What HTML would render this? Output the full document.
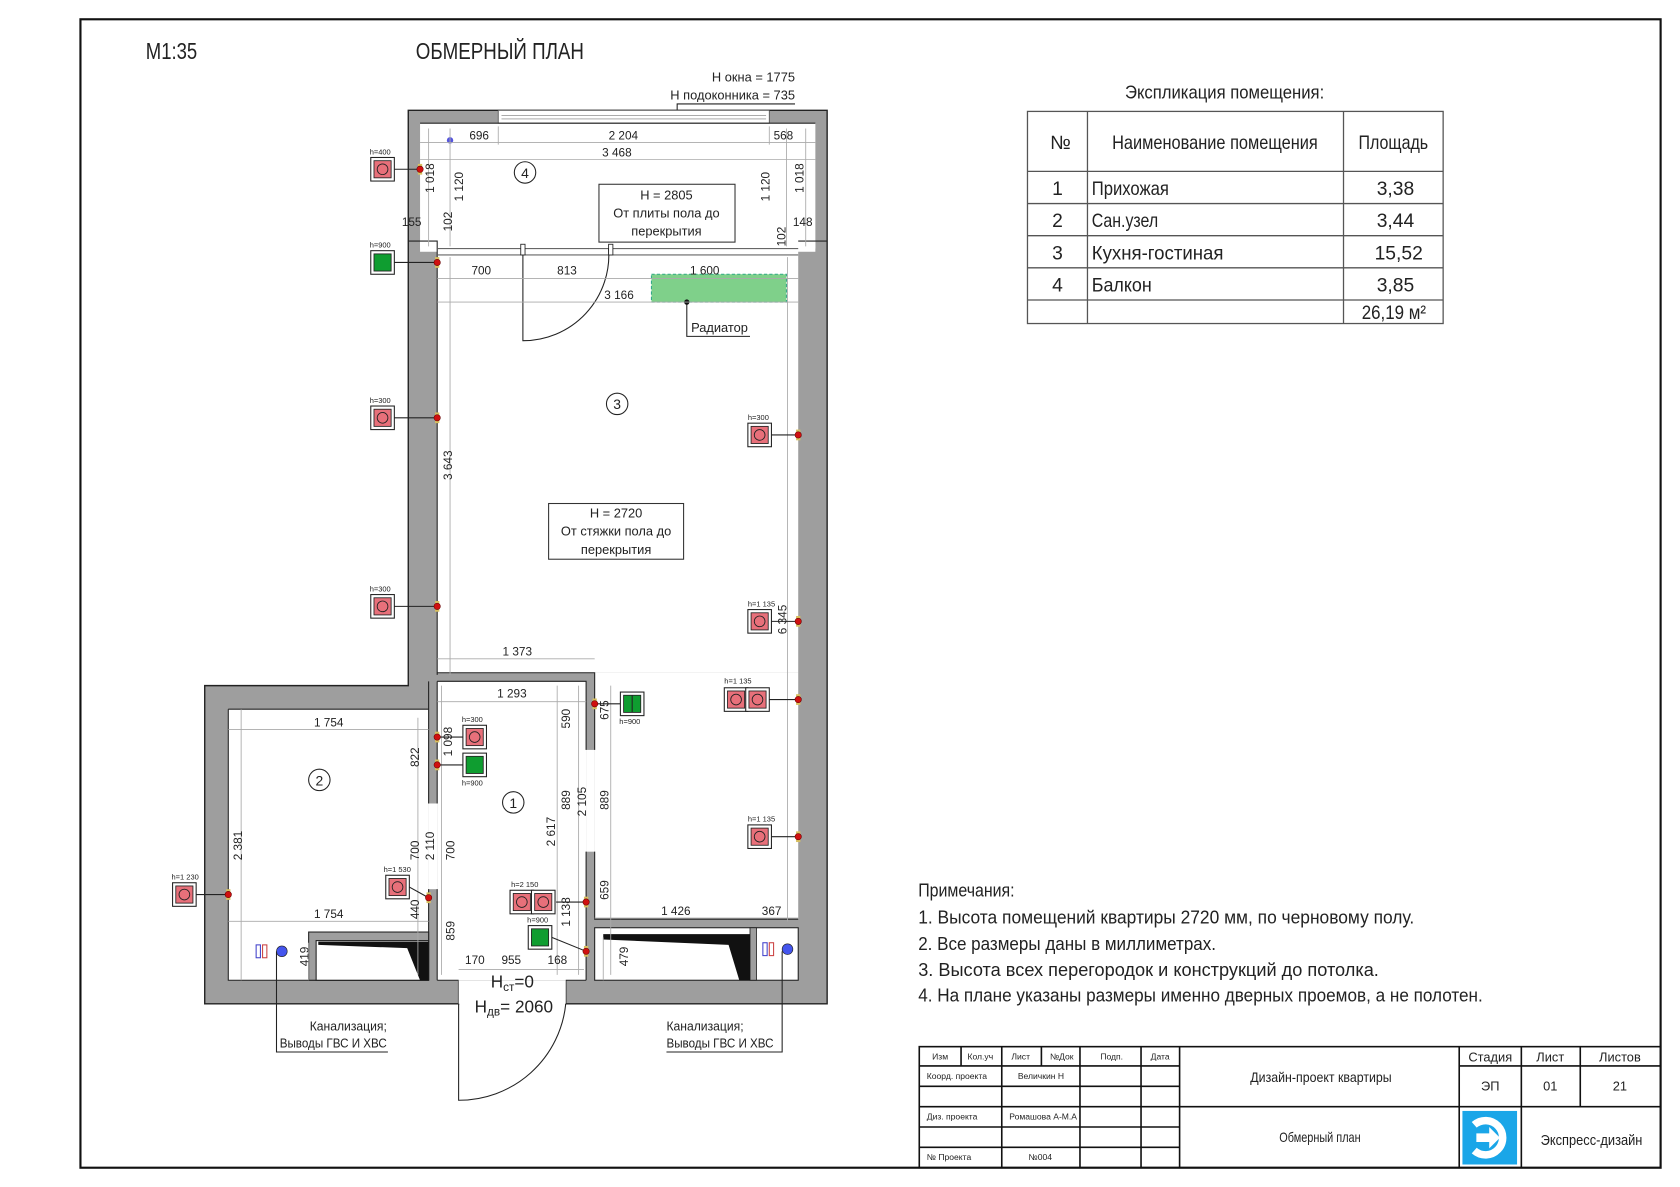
<!DOCTYPE html>
<html><head><meta charset="utf-8"><style>
html,body{margin:0;padding:0;background:#fff;}
svg{display:block;}
text{font-family:"Liberation Sans Narrow","Liberation Sans","DejaVu Sans",sans-serif;fill:#222;}
.d{font-size:11px;fill:#333;}
.h{font-size:7px;fill:#333;}
.dl{stroke:#aaa;stroke-width:0.8;fill:none;}
.w{fill:#9e9e9e;stroke:#222;stroke-width:1.3;}
.ln{stroke:#222;stroke-width:1;fill:none;}
.t{stroke:#111;stroke-width:1.5;fill:none;}
</style></head><body>
<svg width="1680" height="1187" viewBox="0 0 1568 1108" xmlns="http://www.w3.org/2000/svg">
<defs>
<g id="so"><rect x="-11" y="-11" width="22" height="22" fill="#fff" stroke="#222" stroke-width="1"/><rect x="-8" y="-8" width="16" height="16" fill="#e8707a" stroke="#222" stroke-width="0.8"/><circle r="5" fill="none" stroke="#222" stroke-width="0.8"/></g>
<g id="gr"><rect x="-11" y="-11" width="22" height="22" fill="#fff" stroke="#222" stroke-width="1"/><rect x="-8" y="-8" width="16" height="16" fill="#0f9d30" stroke="#222" stroke-width="0.8"/></g>
<g id="pt"><rect x="-2" y="-5" width="4" height="10" fill="#d8c060"/><circle r="3" fill="#d01010" stroke="#600" stroke-width="0.5"/></g>
</defs>
<rect x="75" y="18" width="1475" height="1072" fill="none" stroke="#111" stroke-width="2"/>
<text x="136" y="55" font-size="22" textLength="48" lengthAdjust="spacingAndGlyphs">М1:35</text>
<text x="388" y="55" font-size="22" textLength="157" lengthAdjust="spacingAndGlyphs">ОБМЕРНЫЙ ПЛАН</text>
<text x="742" y="76" font-size="12" text-anchor="end">Н окна = 1775</text>
<text x="742" y="93" font-size="12" text-anchor="end">Н подоконника = 735</text>
<polyline class="ln" points="742,97 632,97 632,110"/><circle cx="632" cy="110" r="2.5" fill="#111"/>

<!-- walls -->
<polygon class="w" points="381,103 772,103 772,937 528,937 528,915 428,915 428,937 191,937 191,640 381,640"/>
<rect x="392" y="115" width="369" height="117" fill="#fff"/>
<rect x="465" y="103" width="253" height="12" fill="#fff" stroke="#555" stroke-width="0.8"/>
<line x1="468" y1="108" x2="715" y2="108" stroke="#777" stroke-width="0.6"/><line x1="468" y1="111" x2="715" y2="111" stroke="#777" stroke-width="0.6"/>
<line x1="392" y1="115" x2="761" y2="115" stroke="#222"/>
<rect x="408" y="228" width="337" height="400" fill="#fff"/>
<rect x="392" y="225" width="369" height="10" fill="#fff"/>
<path d="M381,225 H408 V630 M772,225 H745" class="ln"/>
<line x1="408" y1="232" x2="745" y2="232" stroke="#666"/><line x1="408" y1="238" x2="745" y2="238" stroke="#666"/>
<rect x="555" y="628" width="190" height="230" fill="#fff"/>
<rect x="408" y="636" width="139" height="279" fill="#fff"/>
<rect x="547" y="700" width="8" height="95" fill="#fff"/>
<rect x="213" y="662" width="187" height="253" fill="#fff"/>
<rect x="400" y="750" width="8" height="80" fill="#fff"/>
<path class="ln" d="M408,636 H547 V700 M555,700 V628 H408 M547,795 V915 M555,795 V858 H745 M400,750 V636 M408,636 V750 M400,830 V915 M408,830 V915 M213,662 V915 H400 M213,662 H400 M408,915 H428 M528,915 H547"/>
<rect x="555" y="866" width="190" height="49" fill="#fff" stroke="#222"/>
<rect x="700" y="866" width="6" height="49" fill="#9e9e9e" stroke="#222" stroke-width="0.8"/>
<polygon points="563,872 700,872 700,915 690,915 680,882 563,877" fill="#111"/>
<rect x="288" y="870" width="112" height="45" fill="#9e9e9e" stroke="#222"/>
<rect x="295" y="878" width="105" height="37" fill="#fff" stroke="#222"/>
<polygon points="297,879 400,879 400,915 392,915 380,885 297,882" fill="#111"/>
<rect x="428" y="915" width="100" height="22" fill="#fff"/>
<!-- doors -->
<path class="ln" d="M488,232 V318 A80,80 0 0 0 568,232"/>
<rect x="486" y="228" width="4" height="10" fill="#fff" stroke="#222" stroke-width="0.8"/>
<rect x="568" y="228" width="4" height="10" fill="#fff" stroke="#222" stroke-width="0.8"/>
<path class="ln" d="M428,937 V1027 A100,100 0 0 0 528,937"/>
<!-- radiator -->
<rect x="608" y="256" width="126" height="26" fill="#7fd08a" stroke="#3a8" stroke-dasharray="3,2"/>
<polyline class="ln" points="641,282 641,314 700,314"/><circle cx="641" cy="282" r="2.5" fill="#111"/>
<text x="645" y="310" font-size="12">Радиатор</text>
<!-- pipes -->
<rect x="239" y="882" width="4" height="12" fill="#fff" stroke="#44c"/><rect x="245" y="882" width="4" height="12" fill="#fff" stroke="#c44"/>
<circle cx="263" cy="888" r="5" fill="#4455ee" stroke="#222" stroke-width="0.6"/>
<rect x="712" y="880" width="4" height="12" fill="#fff" stroke="#44c"/><rect x="718" y="880" width="4" height="12" fill="#fff" stroke="#c44"/>
<circle cx="735" cy="886" r="5" fill="#4455ee" stroke="#222" stroke-width="0.6"/>
<polyline class="ln" points="258,888 258,982 362,982"/><polyline class="ln" points="730,888 730,982 622,982"/>
<text x="289" y="962" font-size="12" textLength="72" lengthAdjust="spacingAndGlyphs">Канализация;</text>
<text x="261" y="978" font-size="12" textLength="100" lengthAdjust="spacingAndGlyphs">Выводы ГВС И ХВС</text>
<text x="622" y="962" font-size="12" textLength="72" lengthAdjust="spacingAndGlyphs">Канализация;</text>
<text x="622" y="978" font-size="12" textLength="100" lengthAdjust="spacingAndGlyphs">Выводы ГВС И ХВС</text>
<circle cx="420" cy="131" r="3" fill="#5555dd"/>
<!-- dimension lines -->
<path class="dl" d="M392,133 H761 M392,149 H761 M465,118 V135 M718,118 V135 M408,260 H745 M408,282 H745 M408,615 H555 M408,655 H547 M213,681 H400 M213,860 H400 M420,120 V230 M400,120 V230 M734,120 V230 M752,120 V230 M420,240 V630 M735,240 V860 M520,640 V910 M540,640 V910 M570,640 V910 M390,670 V910 M412,640 V910 M225,662 V915 M428,905 H545 M555,857 H745 M288,880 V915 M563,875 V915"/>
<g class="d">
<text x="438" y="130">696</text><text x="568" y="130">2 204</text><text x="722" y="130">568</text>
<text x="562" y="146">3 468</text>
<text x="440" y="256">700</text><text x="520" y="256">813</text><text x="644" y="256">1 600</text>
<text x="564" y="279">3 166</text>
<text x="469" y="612">1 373</text><text x="464" y="651">1 293</text>
<text x="293" y="678">1 754</text><text x="293" y="857">1 754</text>
<text x="617" y="854">1 426</text><text x="711" y="854">367</text>
<text x="434" y="900">170</text><text x="468" y="900">955</text><text x="511" y="900">168</text>
<text x="375" y="211">155</text><text x="740" y="211">148</text>
<g transform="rotate(-90)">
<text x="-180" y="405">1 018</text><text x="-188" y="432">1 120</text><text x="-216" y="422">102</text>
<text x="-188" y="718">1 120</text><text x="-180" y="750">1 018</text><text x="-230" y="733">102</text>
<text x="-448" y="422">3 643</text><text x="-592" y="734">6 345</text>
<text x="-716" y="391">822</text><text x="-706" y="422">1 098</text>
<text x="-803" y="391">700</text><text x="-803" y="405">2 110</text><text x="-803" y="424">700</text>
<text x="-803" y="226">2 381</text><text x="-858" y="391">440</text><text x="-878" y="424">859</text>
<text x="-680" y="532">590</text><text x="-790" y="518">2 617</text><text x="-756" y="532">889</text><text x="-762" y="547">2 105</text><text x="-756" y="568">889</text>
<text x="-672" y="568">675</text><text x="-840" y="568">659</text><text x="-865" y="532">1 138</text>
<text x="-902" y="288">419</text><text x="-902" y="586">479</text>
</g></g>
<!-- room numbers -->
<g font-size="13" text-anchor="middle">
<circle cx="490" cy="161" r="10" fill="#fff" stroke="#222"/><text x="490" y="166">4</text>
<circle cx="576" cy="377" r="10" fill="#fff" stroke="#222"/><text x="576" y="382">3</text>
<circle cx="298" cy="728" r="10" fill="#fff" stroke="#222"/><text x="298" y="733">2</text>
<circle cx="479" cy="749" r="10" fill="#fff" stroke="#222"/><text x="479" y="754">1</text>
</g>
<rect x="559" y="172" width="127" height="54" fill="#fff" stroke="#333"/>
<g font-size="12" text-anchor="middle"><text x="622" y="186">Н = 2805</text><text x="622" y="203">От плиты пола до</text><text x="622" y="220">перекрытия</text></g>
<rect x="512" y="470" width="126" height="52" fill="#fff" stroke="#333"/>
<g font-size="12" text-anchor="middle"><text x="575" y="483">Н = 2720</text><text x="575" y="500">От стяжки пола до</text><text x="575" y="517">перекрытия</text></g>
<text x="458" y="922" font-size="16">H<tspan font-size="11" dy="3">cт</tspan><tspan dy="-3">=0</tspan></text>
<text x="443" y="945" font-size="16">H<tspan font-size="11" dy="3">дв</tspan><tspan dy="-3">= 2060</tspan></text>
<!-- sockets -->
<g class="ln">
<line x1="368" y1="158" x2="392" y2="158"/><line x1="368" y1="245" x2="408" y2="245"/><line x1="368" y1="390" x2="408" y2="390"/><line x1="368" y1="566" x2="408" y2="566"/>
<line x1="720" y1="406" x2="745" y2="406"/><line x1="720" y1="580" x2="745" y2="580"/><line x1="718" y1="653" x2="745" y2="653"/><line x1="720" y1="781" x2="745" y2="781"/>
<line x1="555" y1="657" x2="579" y2="657"/><line x1="408" y1="688" x2="432" y2="688"/><line x1="408" y1="714" x2="432" y2="714"/>
<line x1="382" y1="828" x2="400" y2="838"/><line x1="519" y1="842" x2="547" y2="842"/><line x1="515" y1="875" x2="547" y2="888"/><line x1="183" y1="835" x2="213" y2="835"/>
</g>
<use href="#so" x="357" y="158"/><use href="#gr" x="357" y="245"/><use href="#so" x="357" y="390"/><use href="#so" x="357" y="566"/>
<use href="#so" x="709" y="406"/><use href="#so" x="709" y="580"/><use href="#so" x="687" y="653"/><use href="#so" x="707" y="653"/><use href="#so" x="709" y="781"/>
<use href="#gr" x="590" y="657"/><line x1="590" y1="649" x2="590" y2="665" stroke="#222"/>
<use href="#so" x="443" y="688"/><use href="#gr" x="443" y="714"/><use href="#so" x="371" y="828"/>
<use href="#so" x="487" y="842"/><use href="#so" x="507" y="842"/><use href="#gr" x="504" y="875"/><use href="#so" x="172" y="835"/>
<g class="h">
<text x="345" y="144">h=400</text><text x="345" y="231">h=900</text><text x="345" y="376">h=300</text><text x="345" y="552">h=300</text>
<text x="698" y="392">h=300</text><text x="698" y="566">h=1 135</text><text x="676" y="638">h=1 135</text><text x="698" y="767">h=1 135</text>
<text x="578" y="676">h=900</text><text x="431" y="674">h=300</text><text x="431" y="733">h=900</text><text x="358" y="814">h=1 530</text>
<text x="477" y="828">h=2 150</text><text x="492" y="861">h=900</text><text x="160" y="821">h=1 230</text>
</g>
<use href="#pt" x="392" y="158"/><use href="#pt" x="408" y="245"/><use href="#pt" x="408" y="390"/><use href="#pt" x="408" y="566"/>
<use href="#pt" x="745" y="406"/><use href="#pt" x="745" y="580"/><use href="#pt" x="745" y="653"/><use href="#pt" x="745" y="781"/>
<use href="#pt" x="555" y="657"/><use href="#pt" x="408" y="688"/><use href="#pt" x="408" y="714"/><use href="#pt" x="400" y="838"/>
<use href="#pt" x="547" y="842"/><use href="#pt" x="547" y="888"/><use href="#pt" x="213" y="835"/>

<!-- explication -->
<text x="1050" y="92" font-size="17" textLength="186" lengthAdjust="spacingAndGlyphs">Экспликация помещения:</text>
<g stroke="#555" stroke-width="1.2" fill="none">
<rect x="959" y="104" width="388" height="198"/>
<path d="M1015,104 V302 M1254,104 V302 M959,160 H1347 M959,190 H1347 M959,220 H1347 M959,250 H1347 M959,280 H1347"/>
</g>
<g font-size="18">
<text x="980" y="139">№</text><text x="1038" y="139" textLength="192" lengthAdjust="spacingAndGlyphs">Наименование помещения</text><text x="1268" y="139" textLength="65" lengthAdjust="spacingAndGlyphs">Площадь</text>
<text x="982" y="182">1</text><text x="1019" y="182" textLength="72" lengthAdjust="spacingAndGlyphs">Прихожая</text><text x="1285" y="182">3,38</text>
<text x="982" y="212">2</text><text x="1019" y="212" textLength="62" lengthAdjust="spacingAndGlyphs">Сан.узел</text><text x="1285" y="212">3,44</text>
<text x="982" y="242">3</text><text x="1019" y="242" textLength="123" lengthAdjust="spacingAndGlyphs">Кухня-гостиная</text><text x="1283" y="242">15,52</text>
<text x="982" y="272">4</text><text x="1019" y="272" textLength="56" lengthAdjust="spacingAndGlyphs">Балкон</text><text x="1285" y="272">3,85</text>
<text x="1271" y="298" textLength="60" lengthAdjust="spacingAndGlyphs">26,19 м²</text>
</g>
<!-- notes -->
<g font-size="17">
<text x="857" y="837" textLength="90" lengthAdjust="spacingAndGlyphs">Примечания:</text>
<text x="857" y="862" textLength="463" lengthAdjust="spacingAndGlyphs">1. Высота помещений квартиры 2720 мм, по черновому полу.</text>
<text x="857" y="887" textLength="278" lengthAdjust="spacingAndGlyphs">2. Все размеры даны в миллиметрах.</text>
<text x="857" y="911" textLength="430" lengthAdjust="spacingAndGlyphs">3. Высота всех перегородок и конструкций до потолка.</text>
<text x="857" y="935" textLength="527" lengthAdjust="spacingAndGlyphs">4. На плане указаны размеры именно дверных проемов, а не полотен.</text>
</g>
<!-- title block -->
<g class="t">
<rect x="858" y="977" width="692" height="113"/>
<path d="M858,995 H1101 M858,1014 H1101 M858,1033 H1550 M858,1052 H1101 M858,1071 H1101 M897,977 V995 M935,977 V1090 M972,977 V995 M1008,977 V1090 M1065,977 V1090 M1101,977 V1090 M1362,977 V1090 M1420,977 V1033 M1475,977 V1033 M1362,995 H1550 M1420,1033 V1090"/>
</g>
<g font-size="8">
<text x="870" y="989">Изм</text><text x="903" y="989">Кол.уч</text><text x="944" y="989">Лист</text><text x="980" y="989">№Док</text><text x="1027" y="989">Подп.</text><text x="1074" y="989">Дата</text>
<text x="865" y="1007">Коорд. проекта</text><text x="950" y="1007">Величкин Н</text>
<text x="865" y="1045">Диз. проекта</text><text x="942" y="1045">Ромашова А-М.А</text>
<text x="865" y="1083">№ Проекта</text><text x="960" y="1083">№004</text>
</g>
<text x="1167" y="1010" font-size="13" textLength="132" lengthAdjust="spacingAndGlyphs">Дизайн-проект квартиры</text>
<text x="1194" y="1066" font-size="13" textLength="76" lengthAdjust="spacingAndGlyphs">Обмерный план</text>
<g font-size="12" text-anchor="middle"><text x="1391" y="991">Стадия</text><text x="1447" y="991">Лист</text><text x="1512" y="991">Листов</text>
<text x="1391" y="1018">ЭП</text><text x="1447" y="1018">01</text><text x="1512" y="1018">21</text></g>
<rect x="1365" y="1037" width="51" height="50" fill="#1aa6e8"/>
<path d="M1376,1050 A16,16 0 1 1 1376,1074" fill="none" stroke="#fff" stroke-width="7"/>
<path d="M1378,1058 H1390 V1052 L1400,1062 L1390,1072 V1066 H1378 Z" fill="#fff"/>
<text x="1438" y="1069" font-size="14" textLength="95" lengthAdjust="spacingAndGlyphs">Экспресс-дизайн</text>
</svg>
</body></html>
